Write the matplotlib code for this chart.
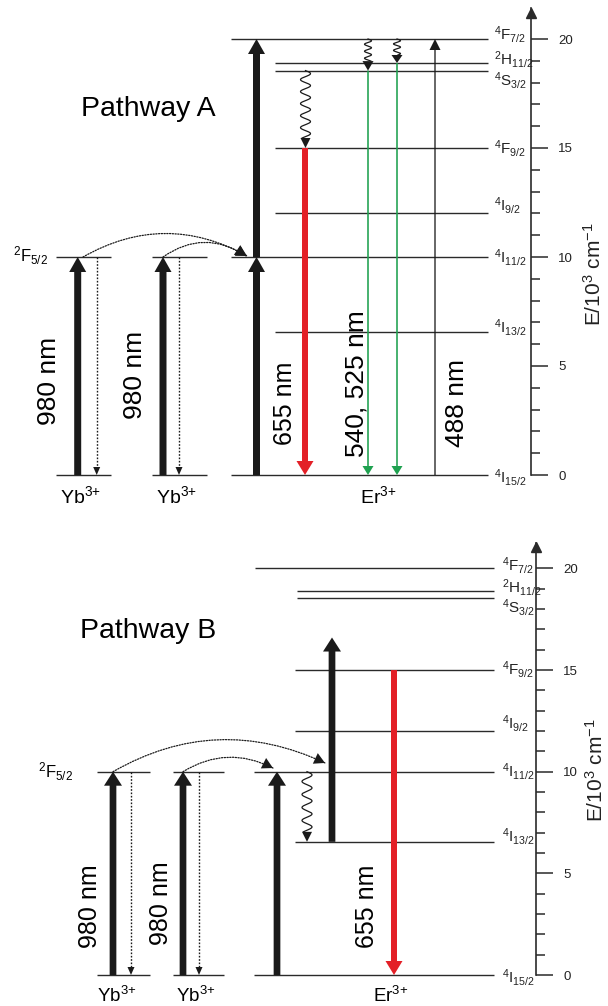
import numpy as np
import matplotlib
matplotlib.use('Agg')
import matplotlib.pyplot as plt
from matplotlib.patches import FancyArrowPatch

plt.rcParams['font.family'] = ['Liberation Sans', 'DejaVu Sans']
plt.rcParams['mathtext.fontset'] = 'custom'
plt.rcParams['mathtext.rm'] = 'Liberation Sans'
plt.rcParams['mathtext.it'] = 'Liberation Sans:italic'
plt.rcParams['mathtext.bf'] = 'Liberation Sans:bold'

# ---------------- data ----------------
er_level_labels = [r'$^{4}$I$_{15/2}$', r'$^{4}$I$_{13/2}$', r'$^{4}$I$_{11/2}$', r'$^{4}$I$_{9/2}$',
                   r'$^{4}$F$_{9/2}$', r'$^{4}$S$_{3/2}$', r'$^{2}$H$_{11/2}$', r'$^{4}$F$_{7/2}$']
er_energies = [0.0, 6.55, 10.0, 12.0, 15.0, 18.55, 18.9, 20.0]   # 10^3 cm^-1
yb_energies = [0.0, 10.0]
yb_label = r'$^{2}$F$_{5/2}$'
major_ticks = [0, 5, 10, 15, 20]
minor_ticks = list(range(0, 21))
ion_labels = ['Yb$^{3\!+}$', 'Yb$^{3\!+}$', 'Er$^{3\!+}$']
axis_label = 'E/10$^{3}$ cm$^{-1}$'

# pathway A transitions (start, end) energies
A_pump_yb = [(0.0, 10.0), (0.0, 10.0)]
A_pump_er = [(0.0, 10.0), (10.0, 20.0)]
A_red = (15.0, 0.0)
A_green = [(18.55, 0.0), (18.9, 0.0)]
A_blue = (0.0, 20.0)
A_relax = [(18.55, 15.0), (20.0, 18.55), (20.0, 18.9)]
# pathway B transitions
B_pump_yb = [(0.0, 10.0), (0.0, 10.0)]
B_pump_er = [(0.0, 10.0), (6.55, 16.6)]
B_red = (15.0, 0.0)
B_relax = [(10.0, 6.55)]

W, H = 608, 1006
fig = plt.figure(figsize=(W / 100, H / 100), dpi=100)

BLACK = '#1a1a1a'
RED = '#e32027'
GREEN = '#1fa150'
LINE = '#2a2a2a'


def make_ax(left, top, right, bottom, zero_px, scale):
    ax = fig.add_axes([left / W, 1 - bottom / H, (right - left) / W, (bottom - top) / H])
    ax.set_xlim(0, right - left)
    ax.set_ylim(-(bottom - zero_px) / scale, (zero_px - top) / scale)
    for s in ['top', 'left', 'bottom']:
        ax.spines[s].set_visible(False)
    ax.spines['right'].set_color(LINE)
    ax.spines['right'].set_linewidth(1.2)
    ax.set_xticks([])
    ax.yaxis.tick_right()
    ax.set_yticks(major_ticks)
    ax.set_yticks(minor_ticks, minor=True)
    ax.set_yticklabels([str(t) for t in major_ticks])
    ax.tick_params(axis='y', which='major', length=12.2, width=1.1, direction='out', pad=7.5,
                   labelsize=9.5, color=LINE, labelcolor='#222')
    ax.tick_params(axis='y', which='minor', length=6.5, width=1.1, direction='out', color=LINE)
    return ax


def varrow(ax, x, e0, e1, shaft, hw, hl, color, scale):
    ax.arrow(x, e0, 0, e1 - e0, width=shaft, head_width=hw, head_length=hl / scale,
             length_includes_head=True, color=color, lw=0, zorder=4)


def dotted_down(ax, x, e0, e1, scale):
    hl = 8 / scale
    ax.plot([x, x], [e0, e1 + hl], color=BLACK, lw=1.0, ls=(0, (1.2, 1.2)), zorder=3)
    ax.arrow(x, e1 + hl, 0, -hl, width=0, head_width=7, head_length=hl,
             length_includes_head=True, color=BLACK, lw=0, zorder=4)


def wavy(ax, x, e0, e1, amp, period, hw, hl, scale):
    hlE = hl / scale
    ys = np.linspace(e0, e1 + hlE, 300)
    dist_px = (e0 - ys) * scale
    xs = x + amp * np.sin(2 * np.pi * dist_px / period)
    ax.plot(xs, ys, color=BLACK, lw=0.9, zorder=3)
    ax.arrow(x, e1 + hlE, 0, -hlE, width=0, head_width=hw, head_length=hlE,
             length_includes_head=True, color=BLACK, lw=0, zorder=4)


def curved(ax, p0, p1, rad):
    style = dict(connectionstyle=f'arc3,rad={rad}', shrinkA=0, shrinkB=0, zorder=5)
    ax.add_patch(FancyArrowPatch(p0, p1, arrowstyle='-', lw=0.9, color=BLACK,
                                 linestyle=(0, (1, 1.2)), **style))
    ax.add_patch(FancyArrowPatch(p0, p1, arrowstyle='-|>,head_length=0.55,head_width=0.3',
                                 mutation_scale=14, lw=0, color=BLACK, **style))


def draw_axis_extras(ax, top_e, label_x, label_dy, scale, x_end, ylab_xy, starts):
    ax.spines['right'].set_bounds(0, top_e)
    ax.plot([1], [top_e - 0.2], marker='^', ms=7, color=LINE, transform=ax.get_yaxis_transform(),
            clip_on=False, zorder=6)
    for e, lab, dy, xs in zip(er_energies, er_level_labels, label_dy, starts):
        ax.hlines(e, xs, x_end, color=LINE, lw=1.0, zorder=2)
        ax.text(label_x, e - dy / scale, lab, fontsize=11, va='center', ha='left', color='#222')
    fig.text(ylab_xy[0] / W, 1 - ylab_xy[1] / H, axis_label, rotation=90, fontsize=15,
             ha='center', va='center', color='#222')


# ================= Pathway A =================
sA = 21.8
axA = make_ax(0, 0, 531, 505, 475, sA)
draw_axis_extras(axA, 21.4, 494, [2, -5, 0, -8, 0, 10, -3, -5], sA, 488, (594, 274),
                 [231, 275, 231, 275, 275, 275, 275, 231])
# Yb levels
for (x0, x1) in [(56, 111), (152, 207)]:
    axA.hlines(yb_energies, x0, x1, color=LINE, lw=1.0, zorder=2)
axA.text(13, yb_energies[1] + 0.05, yb_label, fontsize=12, va='center', ha='left')
# pumps
for x, (e0, e1) in zip([77.7, 163], A_pump_yb):
    varrow(axA, x, e0, e1, 7, 17, 15, BLACK, sA)
for x in [96.7, 179]:
    dotted_down(axA, x, yb_energies[1], yb_energies[0], sA)
for (e0, e1) in A_pump_er:
    varrow(axA, 256.5, e0, e1, 7, 17, 15, BLACK, sA)
# energy transfer
curved(axA, (83, 10.0), (247, 10.05), -0.28)
curved(axA, (163, 10.0), (246, 10.05), -0.34)
# emissions
varrow(axA, 305, A_red[0], A_red[1], 6, 17, 14, RED, sA)
for x, (e0, e1) in zip([368, 397], A_green):
    varrow(axA, x, e0, e1, 1.6, 11, 9, GREEN, sA)
varrow(axA, 435, A_blue[0], A_blue[1], 1.3, 11, 11, BLACK, sA)
# relaxation
wavy(axA, 305.5, A_relax[0][0], A_relax[0][1], 5, 12, 10, 10, sA)
wavy(axA, 368, A_relax[1][0], A_relax[1][1], 3.5, 7, 11, 9.5, sA)
wavy(axA, 397, A_relax[2][0], A_relax[2][1], 3.5, 6.5, 11, 8, sA)
# texts
axA.text(80.7, 16.48, 'Pathway A', fontsize=20.5, va='baseline', ha='left')
axA.text(49.5, 4.32, '980 nm', fontsize=19, rotation=90, ha='center', va='center')
axA.text(135, 4.59, '980 nm', fontsize=19, rotation=90, ha='center', va='center')
axA.text(285, 3.3, '655 nm', fontsize=18, rotation=90, ha='center', va='center')
axA.text(356.5, 4.2, '540, 525 nm', fontsize=19, rotation=90, ha='center', va='center')
axA.text(457, 3.3, '488 nm', fontsize=19, rotation=90, ha='center', va='center')
for x, lab in zip([81, 177, 378], ion_labels):
    axA.text(x, -0.96, lab, fontsize=14, ha='center', va='center')

# ================= Pathway B =================
sB = 20.33
axB = make_ax(0, 505, 536, 1006, 975, sB)
draw_axis_extras(axB, 21.25, 502, [2, -5, 0, -8, -1, 10, -3.5, -3], sB, 494, (596, 770),
                 [254, 295, 254, 295, 295, 297, 297, 255])
for (x0, x1) in [(97, 150), (173, 224)]:
    axB.hlines(yb_energies, x0, x1, color=LINE, lw=1.0, zorder=2)
axB.text(38, yb_energies[1], yb_label, fontsize=12, va='center', ha='left')
for x, (e0, e1) in zip([113, 183], B_pump_yb):
    varrow(axB, x, e0, e1, 6.7, 18, 14, BLACK, sB)
for x in [131, 199]:
    dotted_down(axB, x, yb_energies[1], yb_energies[0], sB)
varrow(axB, 277, B_pump_er[0][0], B_pump_er[0][1], 6.7, 18, 14, BLACK, sB)
varrow(axB, 332, B_pump_er[1][0], B_pump_er[1][1], 6.7, 18, 14, BLACK, sB)
curved(axB, (113, 10.0), (325, 10.43), -0.26)
curved(axB, (183, 10.0), (273, 10.18), -0.28)
varrow(axB, 394, B_red[0], B_red[1], 6, 17, 14, RED, sB)
wavy(axB, 307, B_relax[0][0], B_relax[0][1], 5, 13, 10, 10, sB)
axB.text(80, 16.58, 'Pathway B', fontsize=20.5, va='baseline', ha='left')
axB.text(90, 3.39, '980 nm', fontsize=18, rotation=90, ha='center', va='center')
axB.text(161, 3.54, '980 nm', fontsize=18, rotation=90, ha='center', va='center')
axB.text(367, 3.39, '655 nm', fontsize=18, rotation=90, ha='center', va='center')
for x, lab in zip([117, 196, 391], ion_labels):
    axB.text(x, -1.32, lab, fontsize=13.5, ha='center', va='baseline')

fig.savefig('out.png', dpi=100)
